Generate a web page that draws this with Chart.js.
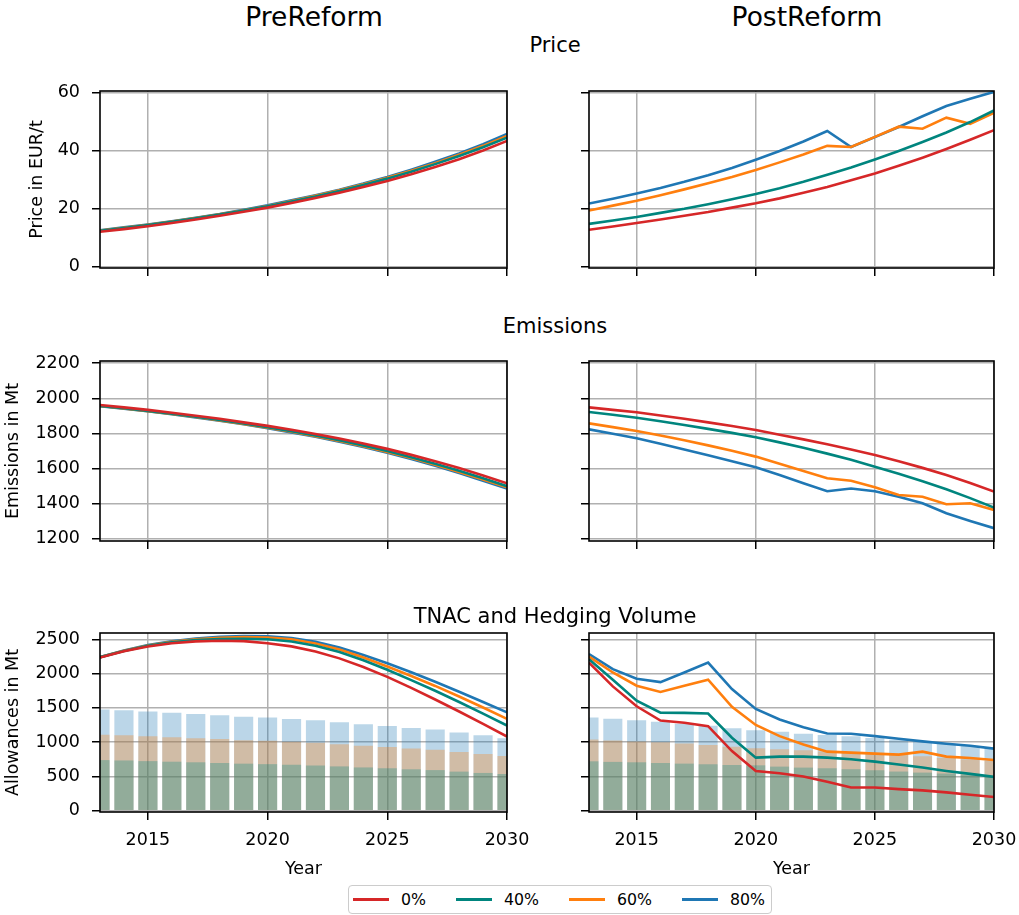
<!DOCTYPE html>
<html>
<head>
<meta charset="utf-8">
<script src="https://cdn.jsdelivr.net/npm/chart.js@4.4.1/dist/chart.umd.min.js"></script>
<style>
  body { margin: 0; width: 1019px; height: 915px; position: relative; background: #fff; overflow: hidden;
         font-family: "DejaVu Sans", sans-serif; color: #000; }
  canvas { position: absolute; }
  .lbl { position: absolute; white-space: nowrap; line-height: 1; transform: translateX(-50%); z-index: 2; }
  #legend { position: absolute; left: 348px; top: 885px; height: 27px; padding: 0 6px 0 4px;
            border: 1px solid #cccccc; border-radius: 4px; display: flex; align-items: center;
            font-size: 15.75px; background: #fff; }
  #legend .hnd { width: 36px; height: 2.6px; margin-right: 12px; }
  #legend .txt { margin-right: 30px; }
  #legend .txt:last-child { margin-right: 0; }
</style>
</head>
<body>

<div class="lbl" style="left:314px; top:4px; font-size:26.5px">PreReform</div>
<div class="lbl" style="left:807px; top:4px; font-size:26.5px">PostReform</div>
<div class="lbl" style="left:555px; top:35px; font-size:21px">Price</div>
<div class="lbl" style="left:555px; top:316px; font-size:21px">Emissions</div>
<div class="lbl" style="left:555px; top:606px; font-size:21px">TNAC and Hedging Volume</div>

<canvas id="price-pre"  width="540" height="208" style="left:0;    top:70px"></canvas>
<canvas id="price-post" width="479" height="208" style="left:540px; top:70px"></canvas>
<canvas id="emis-pre"   width="540" height="211" style="left:0;    top:340px"></canvas>
<canvas id="emis-post"  width="479" height="211" style="left:540px; top:340px"></canvas>
<canvas id="tnac-pre"   width="540" height="268" style="left:0;    top:612px"></canvas>
<canvas id="tnac-post"  width="479" height="268" style="left:540px; top:612px"></canvas>

<div id="legend"></div>

<script>
// Jahre und Achsenbeschriftungen
const years = [2013, 2014, 2015, 2016, 2017, 2018, 2019, 2020, 2021, 2022, 2023, 2024, 2025, 2026, 2027, 2028, 2029, 2030];
const xTicks = [2015, 2020, 2025, 2030];
const priceTicks = [0, 20, 40, 60];
const emisTicks = [1200, 1400, 1600, 1800, 2000, 2200];
const tnacTicks = [0, 500, 1000, 1500, 2000, 2500];

const seriesNames = ["0%", "40%", "60%", "80%"];
const lineColors = ["#d62728", "#00857e", "#ff7f0e", "#1f77b4"];
const barColors = ["rgba(0,133,126,0.3)", "rgba(255,127,14,0.3)", "rgba(31,119,180,0.3)"];

// Preis in EUR/t
const pricePre0  = [12.0, 12.9, 13.9, 15.0, 16.2, 17.5, 18.9, 20.3, 21.9, 23.6, 25.4, 27.4, 29.5, 31.8, 34.3, 37.0, 40.0, 43.3];
const pricePre40 = [12.3, 13.3, 14.3, 15.4, 16.6, 17.9, 19.3, 20.8, 22.4, 24.1, 26.0, 28.1, 30.3, 32.7, 35.3, 38.1, 41.1, 44.4];
const pricePre60 = [12.4, 13.4, 14.4, 15.5, 16.7, 18.0, 19.4, 20.9, 22.6, 24.4, 26.3, 28.4, 30.6, 33.0, 35.6, 38.5, 41.6, 45.0];
const pricePre80 = [12.5, 13.5, 14.5, 15.6, 16.8, 18.1, 19.6, 21.1, 22.8, 24.6, 26.5, 28.6, 30.9, 33.4, 36.1, 39.0, 42.2, 45.7];

const pricePost0  = [12.7, 13.8, 15.0, 16.2, 17.5, 18.8, 20.3, 21.8, 23.5, 25.4, 27.4, 29.7, 32.1, 34.7, 37.5, 40.5, 43.7, 47.0];
const pricePost40 = [14.7, 15.9, 17.1, 18.5, 19.9, 21.5, 23.2, 25.0, 27.0, 29.2, 31.6, 34.1, 36.9, 39.8, 42.9, 46.2, 49.8, 53.8];
const pricePost60 = [19.3, 21.0, 22.7, 24.6, 26.6, 28.7, 30.9, 33.3, 35.9, 38.6, 41.6, 41.2, 44.7, 48.2, 47.5, 51.3, 49.2, 53.0];
const pricePost80 = [21.7, 23.4, 25.2, 27.1, 29.2, 31.5, 34.0, 36.8, 39.8, 43.1, 46.7, 41.2, 44.6, 48.1, 51.8, 55.3, 57.8, 60.2];

// Emissionen in Mt
const emisPre0  = [1962, 1948, 1934, 1918, 1901, 1883, 1863, 1843, 1821, 1797, 1771, 1743, 1712, 1678, 1642, 1603, 1561, 1516];
const emisPre40 = [1957, 1943, 1928, 1912, 1895, 1876, 1856, 1835, 1812, 1788, 1761, 1732, 1700, 1665, 1628, 1588, 1545, 1500];
const emisPre60 = [1956, 1942, 1927, 1911, 1893, 1874, 1854, 1832, 1809, 1784, 1757, 1727, 1695, 1660, 1622, 1581, 1538, 1493];
const emisPre80 = [1955, 1941, 1926, 1909, 1891, 1872, 1852, 1830, 1806, 1781, 1753, 1723, 1690, 1654, 1616, 1575, 1531, 1486];

const emisPost0  = [1948, 1934, 1920, 1902, 1883, 1863, 1842, 1819, 1793, 1766, 1738, 1708, 1677, 1642, 1604, 1563, 1518, 1469];
const emisPost40 = [1922, 1906, 1889, 1869, 1848, 1826, 1803, 1778, 1749, 1718, 1685, 1650, 1611, 1571, 1528, 1482, 1432, 1378];
const emisPost60 = [1857, 1836, 1814, 1788, 1761, 1732, 1701, 1668, 1627, 1586, 1545, 1531, 1494, 1450, 1440, 1397, 1403, 1365];
const emisPost80 = [1823, 1798, 1772, 1741, 1709, 1676, 1642, 1607, 1563, 1517, 1471, 1487, 1471, 1440, 1403, 1346, 1302, 1261];

// TNAC in Mt (Linien)
const tnacPre0  = [2233, 2325, 2395, 2442, 2470, 2480, 2473, 2442, 2397, 2322, 2222, 2097, 1952, 1792, 1622, 1447, 1267, 1082];
const tnacPre40 = [2240, 2330, 2405, 2455, 2488, 2505, 2508, 2500, 2468, 2405, 2315, 2195, 2055, 1905, 1750, 1585, 1415, 1243];
const tnacPre60 = [2240, 2333, 2410, 2463, 2500, 2522, 2532, 2527, 2500, 2440, 2350, 2235, 2103, 1965, 1820, 1665, 1505, 1340];
const tnacPre80 = [2240, 2335, 2415, 2470, 2510, 2535, 2548, 2545, 2520, 2465, 2380, 2270, 2150, 2020, 1880, 1735, 1585, 1435];

const tnacPost0  = [2161, 1813, 1523, 1315, 1282, 1233, 870, 580, 547, 499, 421, 339, 339, 315, 296, 267, 232, 199];
const tnacPost40 = [2210, 1910, 1605, 1431, 1427, 1417, 1064, 774, 789, 789, 774, 750, 716, 673, 629, 580, 537, 493];
const tnacPost60 = [2248, 2016, 1823, 1731, 1823, 1910, 1514, 1250, 1088, 967, 861, 847, 832, 818, 861, 789, 769, 740];
const tnacPost80 = [2286, 2065, 1924, 1876, 2016, 2161, 1775, 1485, 1330, 1218, 1127, 1122, 1088, 1050, 1011, 977, 948, 905];

// Hedging-Volumen in Mt (Balken)
const hedgePre40 = [738, 733, 723, 715, 706, 696, 686, 679, 670, 660, 646, 631, 619, 604, 592, 570, 551, 535];
const hedgePre60 = [1106, 1099, 1085, 1073, 1058, 1044, 1029, 1019, 1004, 990, 968, 947, 928, 906, 888, 855, 826, 797];
const hedgePre80 = [1475, 1465, 1446, 1430, 1411, 1392, 1372, 1358, 1339, 1320, 1291, 1262, 1237, 1208, 1184, 1140, 1101, 1058];

const hedgePost40 = [720, 712, 706, 696, 687, 677, 667, 662, 643, 629, 619, 605, 590, 571, 556, 542, 527, 508];
const hedgePost60 = [1040, 1025, 1011, 1000, 982, 957, 933, 912, 895, 880, 865, 850, 835, 815, 795, 770, 750, 725];
const hedgePost80 = [1359, 1340, 1320, 1296, 1267, 1238, 1204, 1175, 1151, 1122, 1105, 1085, 1060, 1035, 1005, 975, 945, 910];

Chart.defaults.font.family = "'DejaVu Sans', sans-serif";
Chart.defaults.font.size = 17.5;
Chart.defaults.color = "#000";

// Rahmen um die Zeichenfläche (wie matplotlib-Spines)
const framePlugin = {
    id: "frame",
    afterDraw(chart) {
        const { ctx, chartArea: a } = chart;
        ctx.save();
        ctx.strokeStyle = "#000";
        ctx.lineWidth = 1.6;
        ctx.strokeRect(a.left, a.top, a.right - a.left, a.bottom - a.top);
        ctx.restore();
    }
};

const toPoints = (vals) => years.map((yr, i) => ({ x: yr, y: vals[i] }));

function makePanel(id, p) {
    // rote Linie zuletzt gezeichnet (oben)
    const datasets = p.lines.map((vals, i) => ({
        type: "line",
        label: seriesNames[i],
        data: toPoints(vals),
        borderColor: lineColors[i],
        borderWidth: 2.6,
        pointRadius: 0,
        tension: 0,
        fill: false,
        order: i + 1
    }));
    if (p.bars) {
        // blau zuerst, dann orange, dann türkis darüber
        p.bars.forEach((vals, i) => {
            datasets.push({
                type: "bar",
                label: "Hedging " + seriesNames[i + 1],
                data: toPoints(vals),
                backgroundColor: barColors[i],
                borderWidth: 0,
                grouped: false,
                categoryPercentage: 0.8,
                barPercentage: 1,
                order: 8 + i
            });
        });
    }

    const gridOpts = { color: "#b0b0b0", lineWidth: 1.5, tickColor: "#000", tickWidth: 1.5, tickLength: 8, offset: false };

    new Chart(document.getElementById(id), {
        type: "line",
        data: { datasets: datasets },
        plugins: [framePlugin],
        options: {
            responsive: false,
            animation: false,
            layout: { padding: { left: 0, top: 21, right: p.padRight, bottom: 0 } },
            plugins: { legend: { display: false }, tooltip: { enabled: false } },
            scales: {
                x: {
                    type: "linear",
                    min: 2013,
                    max: 2030,
                    offset: false,
                    afterBuildTicks: (s) => { s.ticks = xTicks.map((v) => ({ value: v })); },
                    afterFit: (s) => { s.height = p.xHeight; s.paddingLeft = 0; s.paddingRight = 0; },
                    grid: gridOpts,
                    border: { display: false },
                    ticks: { display: p.showX, padding: 10, maxRotation: 0, autoSkip: false, callback: (v) => String(v) },
                    title: { display: p.showX, text: "Year", padding: 0 }
                },
                y: {
                    type: "linear",
                    min: p.yMin,
                    max: p.yMax,
                    afterBuildTicks: (s) => { s.ticks = p.yTicks.map((v) => ({ value: v })); },
                    afterFit: (s) => { s.width = p.yWidth; s.paddingTop = 0; s.paddingBottom = 0; },
                    grid: gridOpts,
                    border: { display: false },
                    ticks: { display: p.showY, padding: 12, callback: (v) => String(v) },
                    title: { display: p.showY, text: p.yTitle, padding: { top: p.yTitlePad, bottom: 0 } }
                }
            }
        }
    });
}

const leftCol = { yWidth: 100, padRight: 33, showY: true };
const rightCol = { yWidth: 49, padRight: 25, showY: false };

makePanel("price-pre", Object.assign({}, leftCol, {
    lines: [pricePre0, pricePre40, pricePre60, pricePre80],
    yMin: -0.5, yMax: 60.5, yTicks: priceTicks, yTitle: "Price in EUR/t", yTitlePad: 27, showX: false, xHeight: 10
}));
makePanel("price-post", Object.assign({}, rightCol, {
    lines: [pricePost0, pricePost40, pricePost60, pricePost80],
    yMin: -0.5, yMax: 60.5, yTicks: priceTicks, showX: false, xHeight: 10
}));
makePanel("emis-pre", Object.assign({}, leftCol, {
    lines: [emisPre0, emisPre40, emisPre60, emisPre80],
    yMin: 1188, yMax: 2212, yTicks: emisTicks, yTitle: "Emissions in Mt", yTitlePad: 3, showX: false, xHeight: 10
}));
makePanel("emis-post", Object.assign({}, rightCol, {
    lines: [emisPost0, emisPost40, emisPost60, emisPost80],
    yMin: 1188, yMax: 2212, yTicks: emisTicks, showX: false, xHeight: 10
}));
makePanel("tnac-pre", Object.assign({}, leftCol, {
    lines: [tnacPre0, tnacPre40, tnacPre60, tnacPre80],
    bars: [hedgePre40, hedgePre60, hedgePre80],
    yMin: -19, yMax: 2592, yTicks: tnacTicks, yTitle: "Allowances in Mt", yTitlePad: 3, showX: true, xHeight: 68
}));
makePanel("tnac-post", Object.assign({}, rightCol, {
    lines: [tnacPost0, tnacPost40, tnacPost60, tnacPost80],
    bars: [hedgePost40, hedgePost60, hedgePost80],
    yMin: -19, yMax: 2592, yTicks: tnacTicks, showX: true, xHeight: 68
}));

// Gemeinsame Legende unter den Diagrammen
const legend = document.getElementById("legend");
seriesNames.forEach((name, i) => {
    const h = document.createElement("span");
    h.className = "hnd";
    h.style.background = lineColors[i];
    const t = document.createElement("span");
    t.className = "txt";
    t.textContent = name;
    legend.appendChild(h);
    legend.appendChild(t);
});
</script>
</body>
</html>
